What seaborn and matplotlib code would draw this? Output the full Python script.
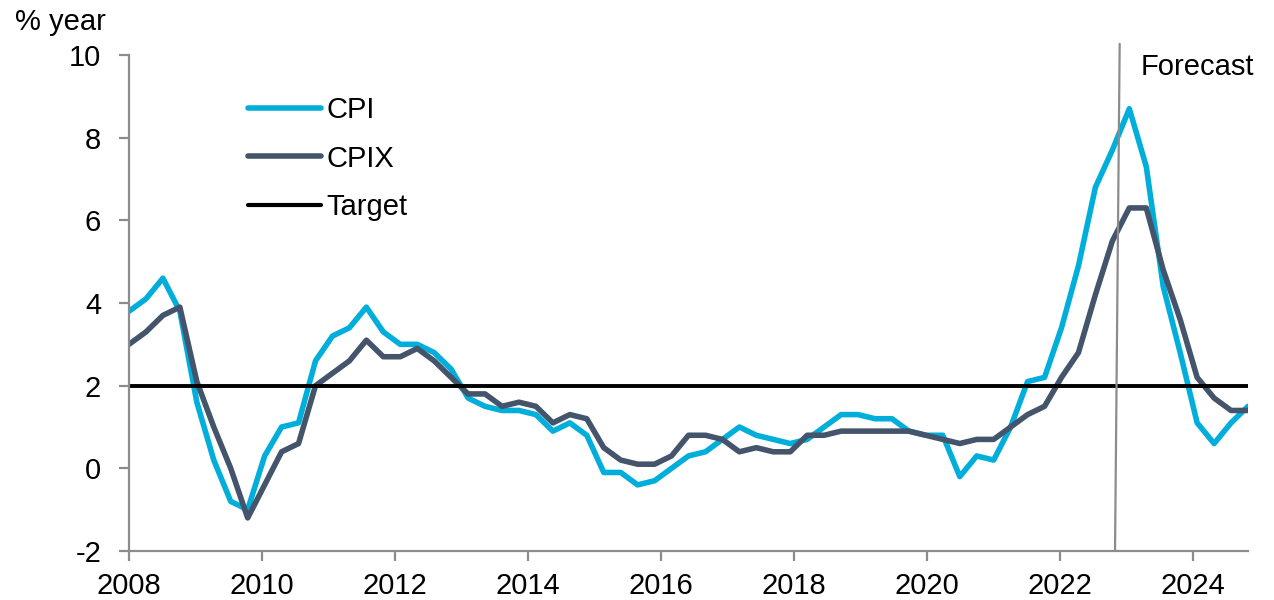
import numpy as np
import pandas as pd
import matplotlib
matplotlib.use("Agg")
import matplotlib.pyplot as plt
from matplotlib.lines import Line2D
import seaborn as sns

# Inflation, % y/y, quarterly from 2008 to end-2024 (last part is forecast)
cpi = [3.8, 4.1, 4.6, 3.8, 1.6, 0.2, -0.8, -1.0, 0.3, 1.0,
       1.1, 2.6, 3.2, 3.4, 3.9, 3.3, 3.0, 3.0, 2.8, 2.4,
       1.7, 1.5, 1.4, 1.4, 1.3, 0.9, 1.1, 0.8, -0.1, -0.1,
       -0.4, -0.3, 0.0, 0.3, 0.4, 0.7, 1.0, 0.8, 0.7, 0.6,
       0.7, 1.0, 1.3, 1.3, 1.2, 1.2, 0.9, 0.8, 0.8, -0.2,
       0.3, 0.2, 1.0, 2.1, 2.2, 3.4, 4.9, 6.8, 7.7, 8.7,
       7.3, 4.4, 2.8, 1.1, 0.6, 1.1, 1.5]
cpix = [3.0, 3.3, 3.7, 3.9, 2.1, 1.0, 0.0, -1.2, -0.4, 0.4,
        0.6, 2.0, 2.3, 2.6, 3.1, 2.7, 2.7, 2.9, 2.6, 2.2,
        1.8, 1.8, 1.5, 1.6, 1.5, 1.1, 1.3, 1.2, 0.5, 0.2,
        0.1, 0.1, 0.3, 0.8, 0.8, 0.7, 0.4, 0.5, 0.4, 0.4,
        0.8, 0.8, 0.9, 0.9, 0.9, 0.9, 0.9, 0.8, 0.7, 0.6,
        0.7, 0.7, 1.0, 1.3, 1.5, 2.2, 2.8, 4.2, 5.5, 6.3,
        6.3, 4.8, 3.6, 2.2, 1.7, 1.4, 1.4]
target = 2.0

x_start, x_end = 2008.0, 2024.83
forecast_x = [2022.83, 2022.90]   # the divider is drawn slightly slanted
forecast_y = [-2.0, 10.27]
year_ticks = list(range(2008, 2025, 2))
y_ticks = list(range(-2, 11, 2))

colors = {"CPI": "#00AEDB", "CPIX": "#44546A"}
axis_grey = "#8C8C8C"
fs = 21

years = np.linspace(x_start, x_end, len(cpi))
df = pd.DataFrame({
    "year": np.concatenate([years, years]),
    "value": cpi + cpix,
    "series": ["CPI"] * len(cpi) + ["CPIX"] * len(cpix),
})

sns.set_theme(style="ticks")
plt.rcParams["font.family"] = ["Liberation Sans", "DejaVu Sans"]
plt.rcParams["axes.unicode_minus"] = False
plt.rcParams["text.color"] = "black"

fig = plt.figure(figsize=(12.74, 6), dpi=100)
ax = fig.add_axes([129 / 1274, 49 / 600, 1119 / 1274, 496 / 600])

sns.lineplot(data=df, x="year", y="value", hue="series", palette=colors,
             linewidth=4.0, legend=False, ax=ax)
ax.axhline(target, color="black", linewidth=2.8)
ax.plot(forecast_x, forecast_y, color=axis_grey, linewidth=1.6, clip_on=False)

ax.set_xlim(x_start, x_end)
ax.set_ylim(-2, 10)
ax.set_xticks(year_ticks)
ax.set_yticks(y_ticks)
ax.set_xlabel("")
ax.set_ylabel("")

for side in ["top", "right"]:
    ax.spines[side].set_visible(False)
for side in ["left", "bottom"]:
    ax.spines[side].set_color(axis_grey)
    ax.spines[side].set_linewidth(1.6)
ax.tick_params(axis="both", direction="out", length=7, width=1.6,
               color=axis_grey, labelsize=fs, labelcolor="black")
ax.tick_params(axis="y", pad=13)
ax.tick_params(axis="x", pad=8)

handles = [Line2D([], [], color=colors["CPI"], lw=4.0, solid_capstyle="round"),
           Line2D([], [], color=colors["CPIX"], lw=4.0, solid_capstyle="round"),
           Line2D([], [], color="black", lw=3.0, solid_capstyle="round")]
ax.legend(handles, ["CPI", "CPIX", "Target"], loc="upper left",
          bbox_to_anchor=(0.106, 0.917), frameon=False, fontsize=fs,
          handlelength=2.5, handletextpad=0.2, labelspacing=0.7,
          borderaxespad=0, borderpad=0)

fig.text(15 / 1274, 1 - 22 / 600, "% year", fontsize=fs, va="center", ha="left")
fig.text(1141 / 1274, 1 - 67 / 600, "Forecast", fontsize=fs, va="center", ha="left")

fig.savefig("out.png", dpi=100)
